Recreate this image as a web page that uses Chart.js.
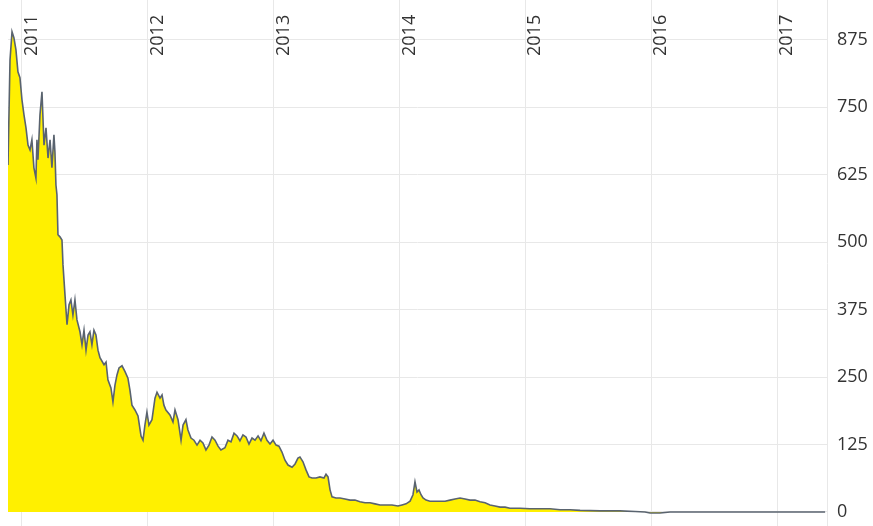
<!DOCTYPE html>
<html>
<head>
<meta charset="utf-8">
<script src="https://cdn.jsdelivr.net/npm/chart.js@4/dist/chart.umd.min.js"></script>
<style>
  body { margin: 0; background: #fff; }
  #chartBox { width: 873px; height: 526px; }
</style>
</head>
<body>
<div id="chartBox"><canvas id="myChart"></canvas></div>
<script>
// ------> data (x = fractional year) <--
const dates = [
  2010.889, 2010.905, 2010.921, 2010.936, 2010.952, 2010.968, 2010.984, 2011.000, 2011.016, 2011.032,
  2011.048, 2011.064, 2011.079, 2011.095, 2011.111, 2011.119, 2011.127, 2011.143, 2011.159, 2011.175,
  2011.191, 2011.207, 2011.223, 2011.238, 2011.254, 2011.262, 2011.270, 2011.278, 2011.286, 2011.302,
  2011.318, 2011.326, 2011.342, 2011.358, 2011.374, 2011.389, 2011.405, 2011.421, 2011.437, 2011.461,
  2011.477, 2011.493, 2011.509, 2011.525, 2011.540, 2011.556, 2011.572, 2011.588, 2011.604, 2011.620,
  2011.652, 2011.668, 2011.683, 2011.707, 2011.723, 2011.739, 2011.755, 2011.771, 2011.795, 2011.819,
  2011.842, 2011.858, 2011.874, 2011.898, 2011.922, 2011.946, 2011.962, 2011.977, 2011.993, 2012.009,
  2012.033, 2012.057, 2012.073, 2012.097, 2012.113, 2012.128, 2012.144, 2012.176, 2012.200, 2012.216,
  2012.240, 2012.264, 2012.280, 2012.303, 2012.319, 2012.343, 2012.367, 2012.391, 2012.415, 2012.438,
  2012.462, 2012.486, 2012.510, 2012.534, 2012.558, 2012.581, 2012.613, 2012.637, 2012.661, 2012.685,
  2012.709, 2012.732, 2012.756, 2012.780, 2012.804, 2012.828, 2012.852, 2012.876, 2012.899, 2012.923,
  2012.947, 2012.971, 2012.995, 2013.019, 2013.042, 2013.066, 2013.090, 2013.114, 2013.146, 2013.170,
  2013.193, 2013.209, 2013.233, 2013.257, 2013.281, 2013.305, 2013.336, 2013.368, 2013.400, 2013.416,
  2013.432, 2013.448, 2013.464, 2013.495, 2013.527, 2013.567, 2013.607, 2013.646, 2013.686, 2013.726,
  2013.766, 2013.805, 2013.845, 2013.893, 2013.940, 2013.988, 2014.020, 2014.052, 2014.084, 2014.107,
  2014.123, 2014.139, 2014.155, 2014.171, 2014.187, 2014.211, 2014.242, 2014.282, 2014.322, 2014.362,
  2014.401, 2014.441, 2014.481, 2014.521, 2014.560, 2014.600, 2014.640, 2014.680, 2014.719, 2014.759,
  2014.799, 2014.839, 2014.878, 2014.958, 2015.037, 2015.117, 2015.196, 2015.276, 2015.355, 2015.435,
  2015.594, 2015.752, 2015.872, 2015.951, 2015.991, 2016.070, 2016.150, 2016.388, 2016.786, 2017.183,
  2017.382
];
const prices = [
  643, 838, 890, 879, 857, 816, 805, 764, 736, 712,
  680, 671, 690, 638, 619, 690, 653, 736, 779, 680,
  712, 656, 690, 638, 699, 667, 606, 588, 514, 510,
  504, 458, 402, 347, 384, 393, 365, 393, 356, 334,
  310, 337, 300, 328, 334, 310, 337, 328, 300, 286,
  273, 278, 245, 230, 204, 235, 254, 267, 271, 260,
  248, 226, 198, 189, 178, 141, 133, 161, 185, 161,
  171, 211, 222, 211, 217, 198, 189, 180, 167, 189,
  171, 133, 161, 171, 152, 137, 133, 124, 133, 128,
  115, 124, 139, 133, 122, 115, 119, 133, 130, 146,
  141, 132, 143, 139, 126, 137, 133, 141, 132, 146,
  133, 126, 133, 124, 122, 111, 96, 87, 83, 89,
  100, 102, 93, 78, 65, 63, 63, 65, 63, 70,
  65, 41, 28, 26, 26, 24, 22, 22, 19, 17,
  17, 15, 13, 13, 13, 11, 13, 15, 20, 32,
  56, 37, 41, 32, 26, 22, 20, 20, 20, 20,
  22, 24, 26, 24, 22, 22, 19, 17, 13, 11,
  9, 9, 7, 7, 6, 6, 6, 4, 4, 3,
  2, 2, 1, 0, -2, -2, 0, 0, 0, 0,
  0
];
const yearTicks = [2011, 2012, 2013, 2014, 2015, 2016, 2017];
const priceTicks = [0, 125, 250, 375, 500, 625, 750, 875];

// ------> chart <--
Chart.defaults.font.family = "'Open Sans', sans-serif";
Chart.defaults.font.size = 18;
Chart.defaults.color = '#333';

const gridColor = '#e8e8e8';
const ctx = document.getElementById('myChart').getContext('2d');

new Chart(ctx, {
  type: 'line',
  data: {
    datasets: [{
      data: dates.map((d, i) => ({ x: d, y: prices[i] })),
      borderColor: '#59636f',
      borderWidth: 1.6,
      backgroundColor: '#fff000',
      fill: 'origin',
      pointRadius: 0,
      tension: 0
    }]
  },
  options: {
    responsive: true,
    maintainAspectRatio: false,
    animation: false,
    layout: { padding: { left: 8 } },
    plugins: { legend: { display: false }, tooltip: { enabled: false } },
    scales: {
      x: {
        type: 'linear',
        position: 'top',
        min: 2010.889,
        max: 2017.397,
        afterBuildTicks: s => { s.ticks = yearTicks.map(v => ({ value: v })); },
        afterFit: s => {
          s.height = 0;
          s.paddingLeft = 0; s.paddingRight = 0; s.paddingTop = 0; s.paddingBottom = 0;
        },
        grid: { color: gridColor, drawTicks: false },
        border: { display: false },
        ticks: {
          autoSkip: false,
          minRotation: 90,
          maxRotation: 90,
          mirror: true,
          padding: 56,
          labelOffset: 10,
          callback: v => String(v)
        }
      },
      y: {
        position: 'right',
        min: -26,
        max: 949,
        afterBuildTicks: s => { s.ticks = priceTicks.map(v => ({ value: v })); },
        afterFit: s => {
          s.width = 46;
          s.paddingTop = 0; s.paddingBottom = 0;
        },
        grid: { color: gridColor, drawTicks: false },
        border: { color: gridColor },
        ticks: { padding: 10 }
      }
    }
  }
});
</script>
</body>
</html>
